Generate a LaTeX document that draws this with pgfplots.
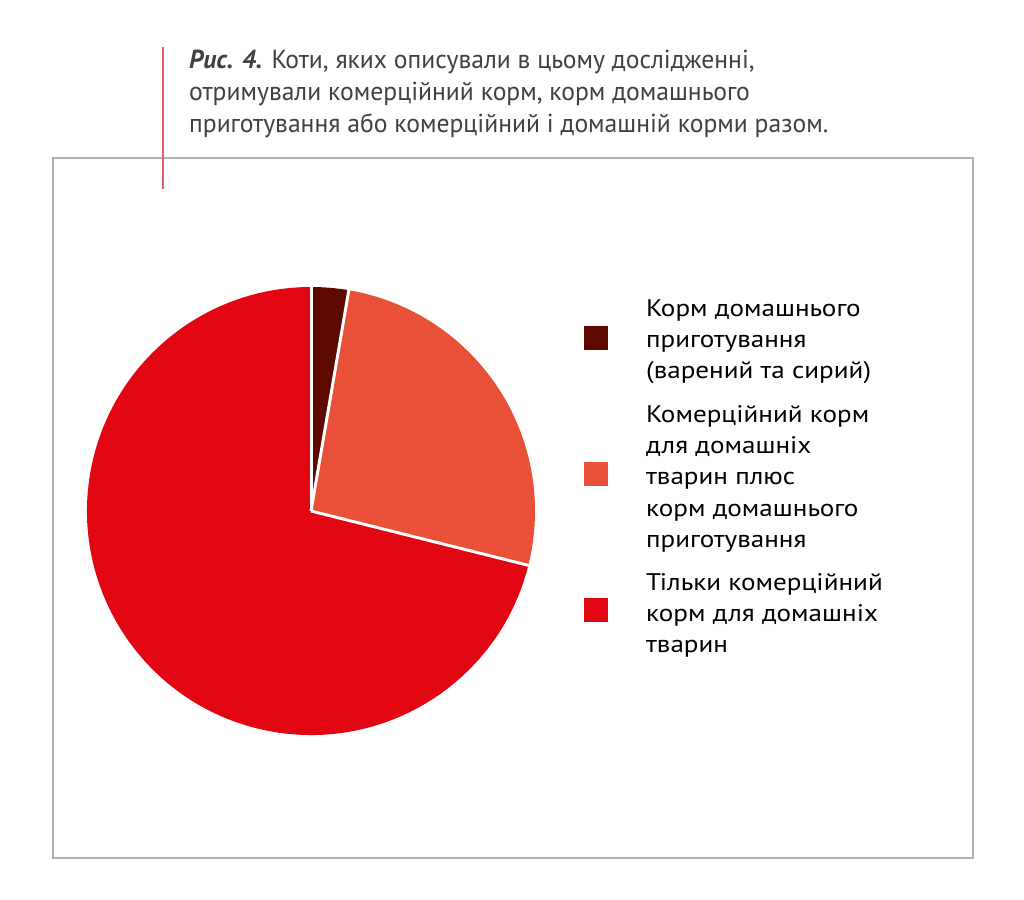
\documentclass[border=0pt]{standalone}
\usepackage{pgfplots}
\pgfplotsset{compat=1.18}
\usepackage{fontspec}
\setmainfont{PT Sans}
\newfontfamily\titlefont[FakeStretch=0.985]{PT Sans}
\newfontfamily\legfont[FakeStretch=1.13]{PT Sans}
\definecolor{cdark}{RGB}{92,10,0}
\definecolor{corange}{RGB}{232,80,56}
\definecolor{cred}{RGB}{226,6,19}
\definecolor{ctitle}{RGB}{64,64,64}
\definecolor{cframe}{RGB}{176,176,176}
\definecolor{cline}{RGB}{222,96,104}
\begin{document}
\begin{tikzpicture}
\path[use as bounding box] (0,0) rectangle (1024bp,900bp);
% values (percent)
\def\vA{2.7}
\def\vB{26.2}
\def\vC{71.1}
\pgfmathsetmacro\aA{90}
\pgfmathsetmacro\aB{90-\vA*3.6}
\pgfmathsetmacro\aC{\aB-\vB*3.6}
\pgfmathsetmacro\aD{\aC-\vC*3.6}
\begin{axis}[x=1bp,y=1bp,xmin=0,xmax=1024,ymin=0,ymax=900,hide axis,clip=false,anchor=south west,at={(0,0)}]
% frame and marker line
\draw[cframe,line width=1.5bp] (axis cs:53,42) rectangle (axis cs:973,742);
\draw[cline,line width=2bp] (axis cs:162.5,853) -- (axis cs:162.5,711);
% pie
\fill[cdark] (axis cs:311,389) -- ++(\aA:224bp) arc[start angle=\aA,end angle=\aB,radius=224bp] -- cycle;
\fill[corange] (axis cs:311,389) -- ++(\aB:224bp) arc[start angle=\aB,end angle=\aC,radius=224bp] -- cycle;
\fill[cred] (axis cs:311,389) -- ++(\aC:224bp) arc[start angle=\aC,end angle=\aD,radius=224bp] -- cycle;
\draw[white,line width=3bp] (axis cs:311,389) -- ++(\aA:226bp);
\draw[white,line width=3bp] (axis cs:311,389) -- ++(\aB:226bp);
\draw[white,line width=3bp] (axis cs:311,389) -- ++(\aC:226bp);
% legend squares
\fill[cdark] (axis cs:584,550) rectangle (axis cs:608,574);
\fill[corange] (axis cs:584,414) rectangle (axis cs:608,438);
\fill[cred] (axis cs:584,278) rectangle (axis cs:608,302);
% legend text
\begin{scope}[every node/.style={anchor=base west,inner sep=0pt,font=\legfont\fontsize{24bp}{31bp}\selectfont,text=black}]
\node at (axis cs:646,583) {Корм домашнього};
\node at (axis cs:646,552) {приготування};
\node at (axis cs:646,521) {(варений та сирий)};
\node at (axis cs:646,477) {Комерційний корм};
\node at (axis cs:646,446) {для домашніх};
\node at (axis cs:646,415) {тварин плюс};
\node at (axis cs:646,384) {корм домашнього};
\node at (axis cs:646,353) {приготування};
\node at (axis cs:646,310) {Тільки комерційний};
\node at (axis cs:646,279) {корм для домашніх};
\node at (axis cs:646,248) {тварин};
\end{scope}
% title
\begin{scope}[every node/.style={anchor=base west,inner sep=0pt,font=\titlefont\fontsize{26bp}{32bp}\selectfont,text=ctitle}]
\node at (axis cs:189,831) {\textbf{\textit{Рис. 4.}} Коти, яких описували в цьому дослідженні,};
\node at (axis cs:189,799) {отримували комерційний корм, корм домашнього};
\node at (axis cs:189,767) {приготування або комерційний і домашній корми разом.};
\end{scope}
\end{axis}
\end{tikzpicture}
\end{document}
